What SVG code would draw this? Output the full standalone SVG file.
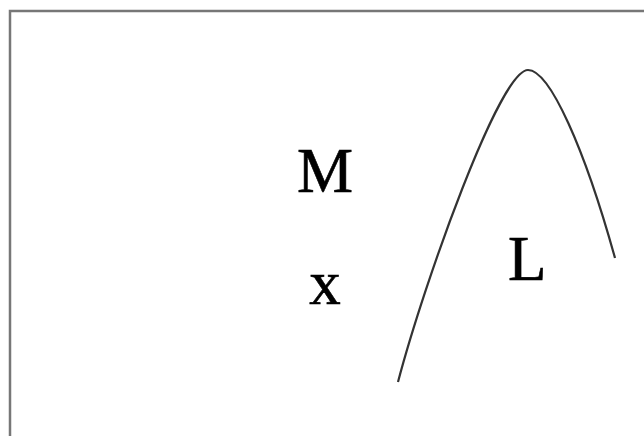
<svg xmlns="http://www.w3.org/2000/svg" width="644" height="436" viewBox="0 0 644 436">
<style>
.lbl{font-family:"Liberation Serif","Times New Roman",serif;font-size:63px;fill:#000;stroke:#000;stroke-width:0.6}
</style>
<rect x="0" y="0" width="644" height="436" fill="#fff"/>
<rect id="frame" x="10" y="11" width="640" height="440" fill="none" stroke="#777" stroke-width="2.5"/>
<g id="curve">
<path d="M398,382 C425,280 500,70 528,70 C550,70 585,150 615,258" fill="none" stroke="#333" stroke-width="2.2"/>
</g>
<g id="labels">
<text class="lbl" x="325" y="192" text-anchor="middle">M</text>
<text class="lbl" x="325" y="304" text-anchor="middle">x</text>
<text class="lbl" x="508" y="280">L</text>
</g>
</svg>
